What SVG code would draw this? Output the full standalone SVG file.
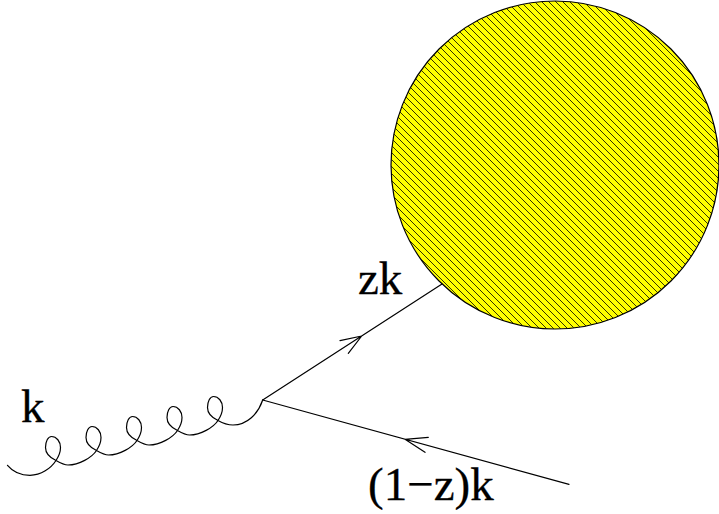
<svg xmlns="http://www.w3.org/2000/svg" width="719" height="514" viewBox="0 0 719 514">
<style>
.l{fill:none;stroke:#000;stroke-width:1.2;stroke-linecap:round;stroke-linejoin:round}
text{font-family:"Liberation Serif","Times New Roman",serif;font-size:47px;fill:#000;stroke:#000;stroke-width:.3}
</style>
<defs>
<pattern id="hatch" patternUnits="userSpaceOnUse" width="7" height="7" patternTransform="translate(1 0)">
<rect width="7" height="7" fill="#ffff00"/>
<path d="M-1,-1L8,8M-1,6L1,8M6,-1L8,1" stroke="#000" stroke-width="0.8" fill="none" shape-rendering="crispEdges"/>
</pattern>
</defs>
<rect width="719" height="514" fill="#fff"/>
<g id="blob"><circle cx="555" cy="165" r="164" fill="url(#hatch)" stroke="#000" stroke-width="1.2"/></g>
<g id="connectors">
<path id="gluon" class="l" d="M7.5,465.3c5,6 13,10 22.5,10c11,0 21,-7 26,-14.8
c3,-4.5 4.5,-7.5 4.5,-13c0,-6 -4,-11 -9,-11c-3.5,0 -6,5 -6,11c0,5 4,10 10.5,13c3.5,2 8,4.5 12,4.5c11,0 24,-7.5 28.5,-14.5
c3,-4.5 4.5,-7.5 4.5,-13c0,-6 -4,-11 -9,-11c-3.5,0 -6,5 -6,11c0,5 4,10 10.5,13c3.5,2 8,4.5 12,4.5c11,0 24,-7.5 28.5,-14.5
c3,-4.5 4.5,-7.5 4.5,-13c0,-6 -4,-11 -9,-11c-3.5,0 -6,5 -6,11c0,5 4,10 10.5,13c3.5,2 8,4.5 12,4.5c11,0 24,-7.5 28.5,-14.5
c3,-4.5 4.5,-7.5 4.5,-13c0,-6 -4,-11 -9,-11c-3.5,0 -6,5 -6,11c0,5 4,10 10.5,13c3.5,2 8,4.5 12,4.5c11,0 24,-7.5 28.5,-14.5
c3,-4.5 4.5,-7.5 4.5,-13c0,-6 -4,-11 -9,-11c-3.5,0 -6,5 -6,11c0,5 4,10 10.5,13c3.5,2 8,4.5 15,4.5c14,0 25,-11 29.7,-25"/>
<path id="quark-zk" class="l" d="M262.7,400L442,284M340,340.7L361.7,336L348.3,353.3"/>
<path id="antiquark" class="l" d="M262.7,400L569,484.3M428.3,437.3L405,439.3L425,452.3"/>
</g>
<g id="label-k"><text x="21" y="422">k</text></g>
<g id="label-zk"><text x="358" y="294">zk</text></g>
<g id="label-1-z-k"><text x="368" y="500">(1−z)k</text></g>
</svg>
